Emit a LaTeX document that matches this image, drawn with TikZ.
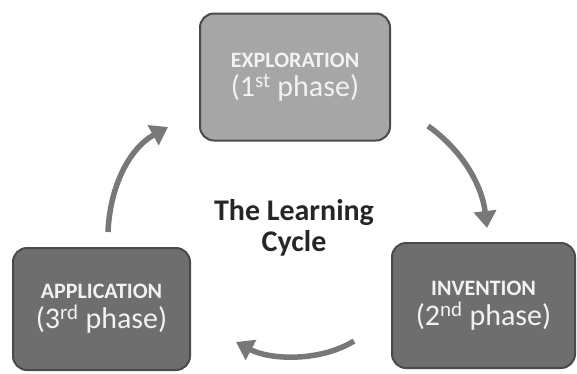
\documentclass[tikz,border=0pt]{standalone}
\usepackage{fontspec}
\setmainfont{Carlito}
\usetikzlibrary{arrows.meta}
\definecolor{boxlight}{HTML}{A6A6A6}
\definecolor{boxdark}{HTML}{6E6E6E}
\definecolor{boxedge}{HTML}{4A4A4A}
\definecolor{arrowgray}{HTML}{787878}
\definecolor{labelwhite}{HTML}{F2F2F2}
\tikzset{
  phase/.style={draw=boxedge, line width=2pt, rounded corners=14pt, align=center,
    text=labelwhite, inner sep=0pt},
  cyclearrow/.style={draw=arrowgray, line width=5.5pt,
    -{Triangle[length=17pt,width=22pt]}},
  title/.style={font=\bfseries\fontsize{30}{31}\selectfont, align=center, text=black!85}
}
\newcommand{\headw}[1]{{\bfseries\fontsize{22}{24}\selectfont #1}}
\newcommand{\phasew}[1]{{\fontsize{30}{32}\selectfont #1}}
\begin{document}
\begin{tikzpicture}[x=1pt,y=-1pt]
\useasboundingbox (0,0) rectangle (577,373);
\node[phase, fill=boxlight, minimum width=190pt, minimum height=127pt] (explore) at (295,77)
  {\headw{EXPLORATION}\\[5pt]\phasew{(1\textsuperscript{st} phase)}};
\node[phase, fill=boxdark, minimum width=183pt, minimum height=125pt] (invent) at (483.5,305.5)
  {\headw{INVENTION}\\[5pt]\phasew{(2\textsuperscript{nd} phase)}};
\node[phase, fill=boxdark, minimum width=177pt, minimum height=122pt] (apply) at (101.5,309)
  {\headw{APPLICATION}\\[5pt]\phasew{(3\textsuperscript{rd} phase)}};
\node[title] (cycle) at (294,228) {The Learning\\Cycle};
\coordinate (a1s) at (428,126);
\coordinate (a1e) at (487,228);
\coordinate (a2s) at (354,341);
\coordinate (a2e) at (236,342);
\coordinate (a3s) at (108,232);
\coordinate (a3e) at (168,127);
\draw[cyclearrow] (a1s) .. controls (462,150) and (482,185) .. (a1e);
\draw[cyclearrow] (a2s) .. controls (320,362) and (270,360) .. (a2e);
\draw[cyclearrow] (a3s) .. controls (110,185) and (130,148) .. (a3e);
\end{tikzpicture}
\end{document}
